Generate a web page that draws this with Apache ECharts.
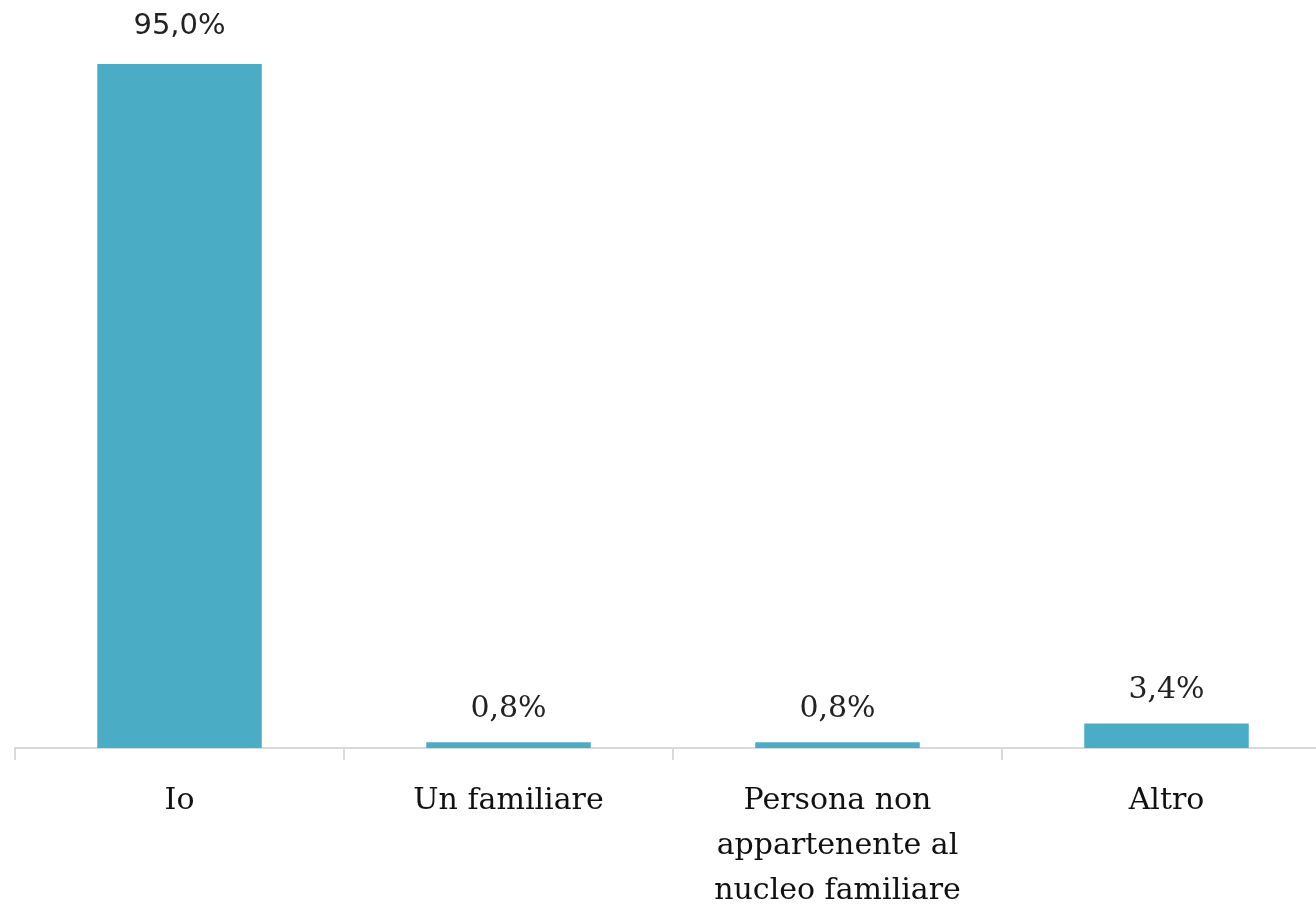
<!DOCTYPE html>
<html><head><meta charset="utf-8">
<script src="https://cdn.jsdelivr.net/npm/echarts@6/dist/echarts.min.js"></script>
<style>html,body{margin:0;padding:0;background:#fff}#c{width:1316px;height:910px}</style>
</head><body><div id="c"></div>
<script>
const categories = ['Io', 'Un familiare', 'Persona non\nappartenente al\nnucleo familiare', 'Altro'];
const values = [95.0, 0.8, 0.8, 3.4];
const labelFonts = ['DejaVu Sans', 'DejaVu Serif', 'DejaVu Serif', 'DejaVu Serif'];

const chart = echarts.init(document.getElementById('c'), null, {renderer: 'canvas'});
chart.setOption({
  animation: false,
  grid: {left: 15, right: -15, top: 28, bottom: 162, containLabel: false, outerBoundsMode: 'none'},
  xAxis: {
    type: 'category',
    data: categories,
    axisLine: {lineStyle: {color: '#d9d9d9', width: 2}},
    axisTick: {show: true, length: 12, lineStyle: {color: '#d9d9d9', width: 2}},
    axisLabel: {interval: 0, margin: 31, color: '#111', fontFamily: 'DejaVu Serif', fontSize: 30, lineHeight: 45}
  },
  yAxis: {type: 'value', min: 0, max: 100, show: false, splitLine: {show: false}},
  series: [{
    type: 'bar',
    barWidth: '50%',
    data: values.map((v, i) => ({
      value: v,
      label: {fontFamily: labelFonts[i], fontSize: i === 0 ? 29 : 30, distance: i === 0 ? 23 : 18}
    })),
    itemStyle: {color: '#4bacc6'},
    label: {
      show: true, position: 'top', color: '#222',
      formatter: p => p.value.toFixed(1).replace('.', ',') + '%'
    }
  }]
});
</script></body></html>
